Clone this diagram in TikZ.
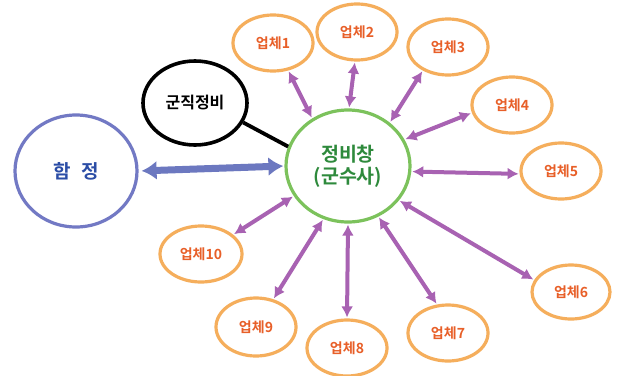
\documentclass[tikz,border=0pt]{standalone}
\usepackage{fontspec}
\setmainfont{Noto Sans CJK KR}[BoldFont={Noto Sans CJK KR Bold}]
\usetikzlibrary{shapes.geometric,arrows.meta}
\definecolor{orl}{HTML}{F5AE5C}
\definecolor{ort}{HTML}{E85F28}
\definecolor{pur}{HTML}{A862B2}
\definecolor{grl}{HTML}{7CC25C}
\definecolor{grt}{HTML}{2E8A3C}
\definecolor{bll}{HTML}{7279C4}
\definecolor{blt}{HTML}{2B4DA6}
\definecolor{bla}{HTML}{6C78C0}
\begin{document}
\begin{tikzpicture}[x=1pt,y=-1pt,
  ell/.style={ellipse,inner sep=0pt,line width=3.2pt},
  firm/.style={ell,draw=orl,text=ort,minimum width=80pt,minimum height=56pt,font=\bfseries\fontsize{14}{16}\selectfont},
  parr/.style={pur,line width=4pt,{Latex[length=11pt,width=12pt]}-{Latex[length=11pt,width=12pt]},shorten <=1pt,shorten >=1pt},
  barr/.style={bla,line width=7pt,{Latex[length=15pt,width=19pt]}-{Latex[length=15pt,width=19pt]},shorten <=3pt,shorten >=1pt}]
\useasboundingbox (0,0) rectangle (617,375);
\fill[white] (0,0) rectangle (617,375);
\node[ell,draw=bll,text=blt,minimum width=122pt,minimum height=112pt,font=\bfseries\fontsize{19}{21}\selectfont] (hj) at (76,171) {함\hspace{0.55em}정};
\node[ell,draw=black,line width=3.6pt,minimum width=104pt,minimum height=84pt,font=\bfseries\fontsize{16}{18}\selectfont] (gj) at (195,103) {군직정비};
\node[ell,draw=grl,text=grt,minimum width=124pt,minimum height=112pt,align=center,font=\bfseries\fontsize{19.5}{22}\selectfont] (jb) at (348,166) {정비창\\(군수사)};
\node[firm] (u1) at (273,43) {업체1};
\node[firm] (u2) at (357,32) {업체2};
\node[firm] (u3) at (448,47) {업체3};
\node[firm] (u4) at (512,105) {업체4};
\node[firm] (u5) at (561,171) {업체5};
\node[firm,minimum width=78pt,minimum height=54pt] (u6) at (571,292) {업체6};
\node[firm] (u7) at (448,333) {업체7};
\node[firm] (u8) at (347,348) {업체8};
\node[firm,minimum height=58pt] (u9) at (256,327) {업체9};
\node[firm,minimum width=82pt] (u10) at (201,254) {업체10};
\draw[barr] (hj.east) -- (jb.west);
\draw[black,line width=3.8pt] (gj.-22) -- (jb.162);
\draw[parr] (jb.127) -- (u1.-61);
\draw[parr] (jb.89) -- (u2.-94);
\draw[parr] (jb.46) -- (u3.-137);
\draw[parr] (jb.25) -- (u4.-169);
\draw[parr] (jb.-5) -- (u5.-176);
\draw[parr] (jb.-34) -- (u6.162);
\draw[parr] (jb.-59) -- (u7.111);
\draw[parr] (jb.-90) -- (u8.90);
\draw[parr] (jb.-115) -- (u9.58);
\draw[parr] (jb.-151) -- (u10.31);
\end{tikzpicture}
\end{document}
